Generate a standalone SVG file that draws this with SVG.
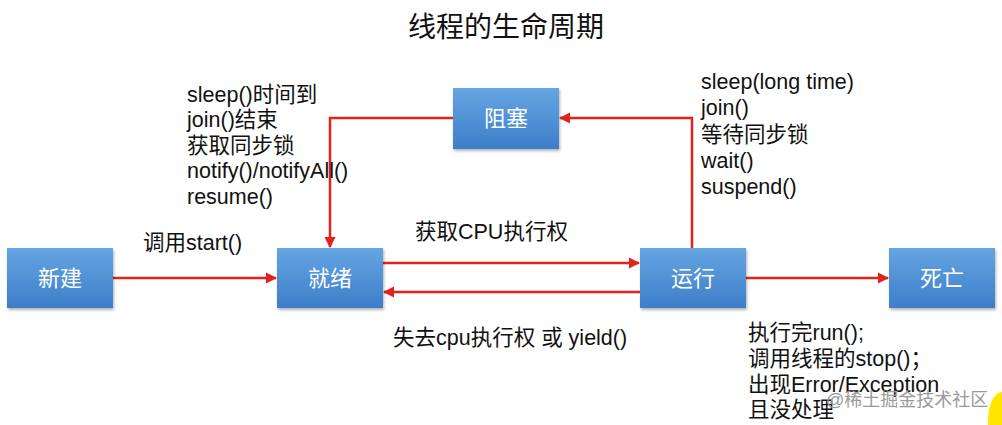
<svg xmlns="http://www.w3.org/2000/svg" width="1002" height="425" viewBox="0 0 1002 425">
<style>
.t{font-family:"Liberation Sans","Noto Sans CJK SC",sans-serif;font-size:21.5px;fill:#111}
.title{font-family:"Liberation Sans","Noto Sans CJK SC",sans-serif;font-size:28px;fill:#111}
.lbl{font-family:"Liberation Sans","Noto Sans CJK SC",sans-serif;font-size:22px;fill:#fff;text-anchor:middle}
.box{fill:url(#g);filter:url(#sh)}
.c{fill:none;stroke:#e0231b;stroke-width:2.5;marker-end:url(#ah)}
.wm{font-family:"Liberation Sans","Noto Sans CJK SC",sans-serif;font-size:18px;fill:#9a9a9a}
</style>
<defs>
<linearGradient id="g" x1="0" y1="0" x2="0" y2="1">
<stop offset="0" stop-color="#66a5e2"/>
<stop offset="1" stop-color="#3c7ec9"/>
</linearGradient>
<filter id="sh" x="-10%" y="-10%" width="125%" height="130%">
<feDropShadow dx="1" dy="2" stdDeviation="1.5" flood-color="#000" flood-opacity="0.3"/>
</filter>
<marker id="ah" viewBox="0 0 10 10" refX="9" refY="5" markerWidth="4.5" markerHeight="4.5" orient="auto" markerUnits="strokeWidth">
<path d="M0,0 L10,5 L0,10 z" fill="#e0231b"/>
</marker>
</defs>
<rect width="1002" height="425" fill="#fff"/>
<text class="title" x="506" y="37" text-anchor="middle">线程的生命周期</text>

<g id="connectors">
<line class="c" x1="113" y1="278" x2="276" y2="278"/>
<line class="c" x1="383" y1="263" x2="639" y2="263"/>
<line class="c" x1="640" y1="292" x2="384" y2="292"/>
<line class="c" x1="746" y1="278" x2="888" y2="278"/>
<polyline class="c" points="692,248 692,118 560,118"/>
<polyline class="c" points="453,118 330,118 330,247"/>
</g>

<g id="n-new"><rect class="box" x="7" y="248" width="106" height="60"/><text class="lbl" x="60" y="286">新建</text></g>
<g id="n-ready"><rect class="box" x="277" y="248" width="106" height="60"/><text class="lbl" x="330" y="286">就绪</text></g>
<g id="n-run"><rect class="box" x="640" y="248" width="106" height="60"/><text class="lbl" x="693" y="286">运行</text></g>
<g id="n-dead"><rect class="box" x="889" y="248" width="106" height="60"/><text class="lbl" x="942" y="286">死亡</text></g>
<g id="n-block"><rect class="box" x="453" y="88" width="106" height="61"/><text class="lbl" x="506" y="126">阻塞</text></g>

<text class="t" x="143" y="250">调用start()</text>
<text class="t" x="415" y="239">获取CPU执行权</text>
<text class="t" x="393" y="345">失去cpu执行权 或 yield()</text>

<text class="t" x="187" y="102">sleep()时间到</text>
<text class="t" x="187" y="127">join()结束</text>
<text class="t" x="187" y="153">获取同步锁</text>
<text class="t" x="187" y="178">notify()/notifyAll()</text>
<text class="t" x="187" y="204">resume()</text>

<text class="t" x="701" y="89">sleep(long time)</text>
<text class="t" x="701" y="115">join()</text>
<text class="t" x="701" y="142">等待同步锁</text>
<text class="t" x="701" y="168">wait()</text>
<text class="t" x="701" y="194">suspend()</text>

<text class="t" x="748" y="340">执行完run();</text>
<text class="t" x="748" y="366">调用线程的stop()；</text>
<text class="t" x="748" y="392">出现Error/Exception</text>
<text class="t" x="748" y="417">且没处理</text>

<ellipse cx="1002" cy="420" rx="14" ry="28" fill="#ffe600"/>
<text class="wm" x="826" y="406">@稀土掘金技术社区</text>
</svg>
